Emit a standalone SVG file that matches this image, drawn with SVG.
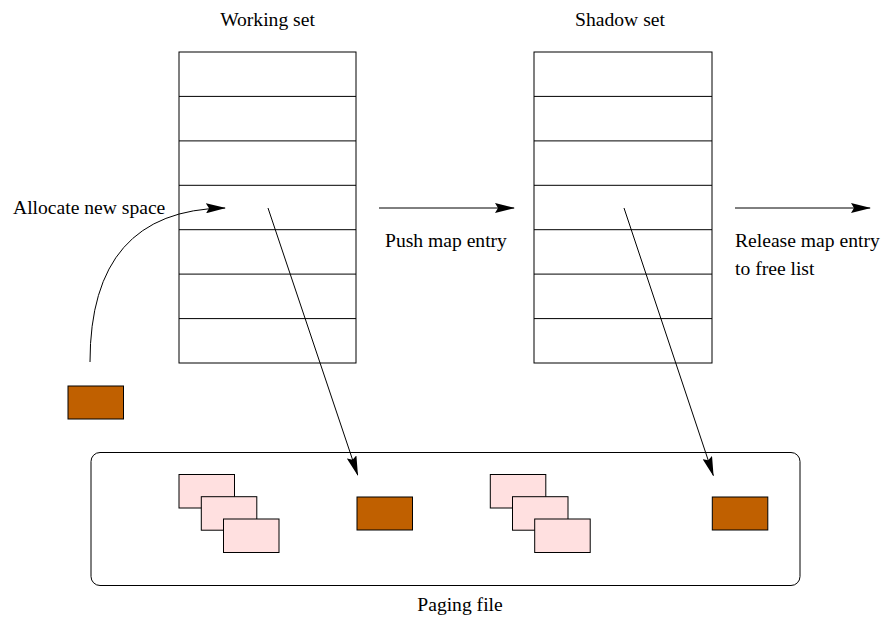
<svg xmlns="http://www.w3.org/2000/svg" width="884" height="621" viewBox="0 0 884 621">
<style>
text{font-family:"Liberation Serif","Times New Roman",serif;font-size:19.6px;fill:#000}
.tbl{fill:#fff;stroke:#000;stroke-width:1}
.row{stroke:#000;stroke-width:1}
.page{fill:#ffe0e0;stroke:#000;stroke-width:1}
.blk{fill:#c06000;stroke:#000;stroke-width:1}
.con{fill:none;stroke:#000;stroke-width:1}
</style>
<defs>
<marker id="ah" markerUnits="userSpaceOnUse" markerWidth="20" markerHeight="10" refX="19" refY="5" orient="auto" viewBox="0 0 20 10">
<path d="M0,0 L20,5 L0,10 L3,5 Z" fill="#000"/>
</marker>
</defs>
<rect width="884" height="621" fill="#fff"/>
<g id="working-set">
<rect class="tbl" x="179" y="52" width="177" height="311"/>
<path class="row" d="M179,96.4H356M179,140.9H356M179,185.3H356M179,229.7H356M179,274.1H356M179,318.6H356"/>
<text x="267.5" y="25.5" text-anchor="middle">Working set</text>
</g>
<g id="shadow-set">
<rect class="tbl" x="534" y="52" width="178" height="311"/>
<path class="row" d="M534,96.4H712M534,140.9H712M534,185.3H712M534,229.7H712M534,274.1H712M534,318.6H712"/>
<text x="620" y="25.5" text-anchor="middle">Shadow set</text>
</g>
<g id="new-block">
<rect class="blk" x="68" y="386" width="55.5" height="33"/>
</g>
<g id="paging-file">
<rect class="con" x="91" y="452.5" width="709" height="133" rx="9" ry="9"/>
<text x="460" y="611" text-anchor="middle">Paging file</text>
</g>
<g id="pages-left">
<rect class="page" x="179" y="474.5" width="55.5" height="33.5"/>
<rect class="page" x="201.3" y="496.7" width="55.5" height="33.5"/>
<rect class="page" x="223.5" y="519" width="55.5" height="33.5"/>
</g>
<g id="block-left">
<rect class="blk" x="357" y="497" width="55.5" height="33"/>
</g>
<g id="pages-right">
<rect class="page" x="490.3" y="474.5" width="55.5" height="33.5"/>
<rect class="page" x="512.5" y="496.7" width="55.5" height="33.5"/>
<rect class="page" x="534.7" y="519" width="55.5" height="33.5"/>
</g>
<g id="block-right">
<rect class="blk" x="712.3" y="497" width="55.5" height="33"/>
</g>
<g id="labels">
<text x="13" y="214">Allocate new space</text>
<text x="385" y="247">Push map entry</text>
<text x="735" y="247">Release map entry</text>
<text x="735" y="275">to free list</text>
</g>
<g id="connectors">
<path class="con" d="M90,362 Q90,210 225,208" marker-end="url(#ah)"/>
<path class="con" d="M379,208 H514" marker-end="url(#ah)"/>
<path class="con" d="M735,208 H870" marker-end="url(#ah)"/>
<path class="con" d="M268,208 L357.7,475" marker-end="url(#ah)"/>
<path class="con" d="M624,208 L713.3,475.5" marker-end="url(#ah)"/>
</g>
</svg>
